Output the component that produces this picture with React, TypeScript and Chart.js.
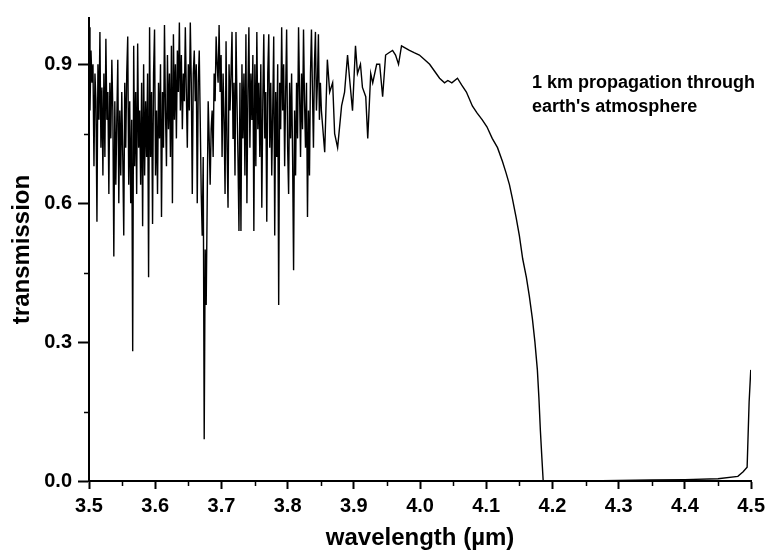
import React, { useEffect, useRef } from "react";
import { Chart, registerables } from "chart.js";

Chart.register(...registerables);

// Dense absorption-line region (3.50 – 3.85 µm)
const denseLambda = [
  3.5000, 3.5015, 3.5030, 3.5045, 3.5060, 3.5075, 3.5090, 3.5105, 3.5120, 3.5135,
  3.5150, 3.5165, 3.5180, 3.5195, 3.5210, 3.5225, 3.5240, 3.5255, 3.5270, 3.5285,
  3.5300, 3.5315, 3.5330, 3.5345, 3.5360, 3.5375, 3.5390, 3.5405, 3.5420, 3.5435,
  3.5450, 3.5465, 3.5480, 3.5495, 3.5510, 3.5525, 3.5540, 3.5555, 3.5570, 3.5585,
  3.5600, 3.5615, 3.5630, 3.5645, 3.5660, 3.5675, 3.5690, 3.5705, 3.5720, 3.5735,
  3.5750, 3.5765, 3.5780, 3.5795, 3.5810, 3.5825, 3.5840, 3.5855, 3.5870, 3.5885,
  3.5900, 3.5915, 3.5930, 3.5945, 3.5960, 3.5975, 3.5990, 3.6005, 3.6020, 3.6035,
  3.6050, 3.6065, 3.6080, 3.6095, 3.6110, 3.6125, 3.6140, 3.6155, 3.6170, 3.6185,
  3.6200, 3.6215, 3.6230, 3.6245, 3.6260, 3.6275, 3.6290, 3.6305, 3.6320, 3.6335,
  3.6350, 3.6365, 3.6380, 3.6395, 3.6410, 3.6425, 3.6440, 3.6455, 3.6470, 3.6485,
  3.6500, 3.6515, 3.6530, 3.6545, 3.6560, 3.6575, 3.6590, 3.6605, 3.6620, 3.6635,
  3.6650, 3.6665, 3.6680, 3.6695, 3.6710, 3.6725, 3.6740, 3.6755, 3.6770, 3.6785,
  3.6800, 3.6815, 3.6830, 3.6845, 3.6860, 3.6875, 3.6890, 3.6905, 3.6920, 3.6935,
  3.6950, 3.6965, 3.6980, 3.6995, 3.7010, 3.7025, 3.7040, 3.7055, 3.7070, 3.7085,
  3.7100, 3.7115, 3.7130, 3.7145, 3.7160, 3.7175, 3.7190, 3.7205, 3.7220, 3.7235,
  3.7250, 3.7265, 3.7280, 3.7295, 3.7310, 3.7325, 3.7340, 3.7355, 3.7370, 3.7385,
  3.7400, 3.7415, 3.7430, 3.7445, 3.7460, 3.7475, 3.7490, 3.7505, 3.7520, 3.7535,
  3.7550, 3.7565, 3.7580, 3.7595, 3.7610, 3.7625, 3.7640, 3.7655, 3.7670, 3.7685,
  3.7700, 3.7715, 3.7730, 3.7745, 3.7760, 3.7775, 3.7790, 3.7805, 3.7820, 3.7835,
  3.7850, 3.7865, 3.7880, 3.7895, 3.7910, 3.7925, 3.7940, 3.7955, 3.7970, 3.7985,
  3.8000, 3.8015, 3.8030, 3.8045, 3.8060, 3.8075, 3.8090, 3.8105, 3.8120, 3.8135,
  3.8150, 3.8165, 3.8180, 3.8195, 3.8210, 3.8225, 3.8240, 3.8255, 3.8270, 3.8285,
  3.8300, 3.8315, 3.8330, 3.8345, 3.8360, 3.8375, 3.8390, 3.8405, 3.8420, 3.8435,
  3.8450, 3.8465, 3.8480, 3.8495, 3.8510,
];
const denseTrans = [
  0.98, 0.80, 0.93, 0.86, 0.90, 0.68, 0.88, 0.82, 0.56, 0.90,
  0.78, 0.97, 0.72, 0.85, 0.66, 0.88, 0.70, 0.955, 0.78, 0.84,
  0.62, 0.86, 0.74, 0.91, 0.80, 0.485, 0.82, 0.64, 0.78, 0.91,
  0.60, 0.80, 0.66, 0.84, 0.70, 0.53, 0.86, 0.72, 0.88, 0.96,
  0.64, 0.82, 0.60, 0.78, 0.28, 0.94, 0.68, 0.84, 0.62, 0.945,
  0.72, 0.80, 0.64, 0.86, 0.55, 0.90, 0.66, 0.82, 0.70, 0.88,
  0.44, 0.98, 0.70, 0.84, 0.555, 0.88, 0.975, 0.66, 0.80, 0.62,
  0.86, 0.74, 0.90, 0.57, 0.84, 0.72, 0.985, 0.80, 0.68, 0.92,
  0.76, 0.88, 0.70, 0.94, 0.60, 0.965, 0.78, 0.90, 0.74, 0.93,
  0.84, 0.99, 0.80, 0.92, 0.76, 0.88, 0.82, 0.98, 0.84, 0.72,
  0.90, 0.80, 0.99, 0.86, 0.62, 0.88, 0.93, 0.82, 0.90, 0.60,
  0.86, 0.93, 0.78, 0.62, 0.53, 0.70, 0.09, 0.50, 0.38, 0.60,
  0.82, 0.74, 0.64, 0.76, 0.80, 0.70, 0.88, 0.82, 0.96, 0.90,
  0.86, 0.985, 0.84, 0.92, 0.70, 0.88, 0.78, 0.62, 0.95, 0.72,
  0.59, 0.90, 0.80, 0.88, 0.97, 0.74, 0.86, 0.66, 0.97, 0.82,
  0.70, 0.54, 0.86, 0.54, 0.90, 0.74, 0.88, 0.66, 0.965, 0.60,
  0.84, 0.98, 0.72, 0.88, 0.78, 0.92, 0.54, 0.90, 0.68, 0.97,
  0.76, 0.86, 0.70, 0.90, 0.59, 0.82, 0.965, 0.74, 0.84, 0.56,
  0.88, 0.965, 0.72, 0.86, 0.66, 0.80, 0.96, 0.53, 0.84, 0.70,
  0.90, 0.38, 0.86, 0.76, 0.98, 0.80, 0.90, 0.68, 0.84, 0.975,
  0.72, 0.62, 0.86, 0.74, 0.88, 0.70, 0.455, 0.80, 0.66, 0.86,
  0.74, 0.98, 0.84, 0.70, 0.88, 0.76, 0.975, 0.82, 0.72, 0.86,
  0.57, 0.80, 0.66, 0.88, 0.975, 0.84, 0.72, 0.90, 0.97, 0.80,
  0.86, 0.965, 0.78, 0.86, 0.80,
];

// Window region and band edge (3.85 – 4.19 µm)
const bandLambda = [
  3.856, 3.860, 3.8635, 3.868, 3.871, 3.8755, 3.8815, 3.886, 3.8905, 3.8935,
  3.898, 3.9025, 3.9055, 3.910, 3.913, 3.918, 3.921, 3.9255, 3.9285, 3.9345,
  3.939, 3.9435, 3.948, 3.953, 3.9585, 3.963, 3.9675, 3.972, 3.978, 3.984,
  3.991, 3.999, 4.007, 4.0145, 4.022, 4.0295, 4.037, 4.042, 4.048, 4.0565,
  4.063, 4.070, 4.079, 4.086, 4.094, 4.101, 4.109, 4.117, 4.1245, 4.130,
  4.135, 4.1395, 4.145, 4.150, 4.155, 4.1606, 4.165, 4.1697, 4.1735, 4.1772,
  4.1795, 4.1817, 4.184, 4.186,
];
const bandTrans = [
  0.71, 0.91, 0.84, 0.86, 0.75, 0.72, 0.81, 0.84, 0.92, 0.87,
  0.80, 0.94, 0.88, 0.90, 0.85, 0.83, 0.74, 0.88, 0.86, 0.90,
  0.90, 0.83, 0.92, 0.925, 0.93, 0.92, 0.90, 0.94, 0.935, 0.93,
  0.925, 0.92, 0.91, 0.90, 0.885, 0.87, 0.86, 0.865, 0.86, 0.87,
  0.855, 0.84, 0.81, 0.795, 0.78, 0.765, 0.74, 0.72, 0.69, 0.665,
  0.64, 0.61, 0.57, 0.53, 0.48, 0.44, 0.40, 0.35, 0.30, 0.24,
  0.18, 0.11, 0.05, 0.0,
];

// Opaque CO2 band and recovery (4.19 – 4.50 µm)
const tailLambda = [4.25, 4.30, 4.35, 4.40, 4.45, 4.48, 4.488, 4.494, 4.497, 4.4995];
const tailTrans = [0.0, 0.001, 0.002, 0.003, 0.005, 0.01, 0.02, 0.03, 0.17, 0.24];

const xMinorTicks = [3.55, 3.65, 3.75, 3.85, 3.95, 4.05, 4.15, 4.25, 4.35, 4.45];
const yMinorTicks = [0.15, 0.45, 0.75];
const noteLines = ["1 km propagation through", "earth's atmosphere"];

const FONT = "'Liberation Sans', Arial, Helvetica, sans-serif";

export default function App() {
  const canvasRef = useRef<HTMLCanvasElement | null>(null);

  useEffect(() => {
    const canvas = canvasRef.current;
    if (!canvas) return;

    const lam = [...denseLambda, ...bandLambda, ...tailLambda];
    const tr = [...denseTrans, ...bandTrans, ...tailTrans];
    const points = lam.map((x, i) => ({ x, y: tr[i] }));

    const extras = {
      id: "extras",
      afterDraw(chart: any) {
        const ctx = chart.ctx;
        const xs = chart.scales.x;
        const ys = chart.scales.y;
        const area = chart.chartArea;
        ctx.save();
        ctx.strokeStyle = "#000";
        ctx.lineWidth = 1.5;
        ctx.beginPath();
        for (const v of xMinorTicks) {
          const px = Math.round(xs.getPixelForValue(v)) + 0.5;
          ctx.moveTo(px, area.bottom);
          ctx.lineTo(px, area.bottom + 5);
        }
        for (const v of yMinorTicks) {
          const py = Math.round(ys.getPixelForValue(v)) + 0.5;
          ctx.moveTo(area.left, py);
          ctx.lineTo(area.left - 5, py);
        }
        ctx.stroke();
        ctx.fillStyle = "#000";
        ctx.font = `bold 18px ${FONT}`;
        ctx.textAlign = "left";
        ctx.textBaseline = "alphabetic";
        noteLines.forEach((t, i) => ctx.fillText(t, 532, 88 + i * 24));
        ctx.restore();
      },
    };

    const chart = new Chart(canvas, {
      type: "line",
      data: {
        datasets: [
          {
            data: points,
            borderColor: "#000",
            borderWidth: 1.4,
            pointRadius: 0,
            tension: 0,
            fill: false,
          },
        ],
      },
      options: {
        animation: false,
        responsive: false,
        devicePixelRatio: 1,
        layout: { padding: { top: 11, right: 18, bottom: 0, left: 0 } },
        plugins: { legend: { display: false }, tooltip: { enabled: false } },
        scales: {
          x: {
            type: "linear",
            min: 3.5,
            max: 4.5,
            afterFit: (s: any) => {
              s.height = 77;
            },
            ticks: {
              stepSize: 0.1,
              color: "#000",
              padding: 5,
              maxRotation: 0,
              font: { family: FONT, size: 20, weight: "bold" },
              callback: (v: any) => Number(v).toFixed(1),
            },
            grid: {
              drawOnChartArea: false,
              drawTicks: true,
              tickLength: 8,
              tickColor: "#000",
              tickWidth: 2,
            },
            border: { display: true, color: "#000", width: 2 },
            title: {
              display: true,
              text: "wavelength (\u00b5m)",
              color: "#000",
              font: { family: FONT, size: 24, weight: "bold" },
              padding: { top: 0, bottom: 5 },
            },
          },
          y: {
            type: "linear",
            min: 0,
            max: 1.0,
            afterFit: (s: any) => {
              s.width = 89;
            },
            ticks: {
              stepSize: 0.3,
              includeBounds: false,
              color: "#000",
              padding: 6,
              font: { family: FONT, size: 20, weight: "bold" },
              callback: (v: any) => Number(v).toFixed(1),
            },
            grid: {
              drawOnChartArea: false,
              drawTicks: true,
              tickLength: 11,
              tickColor: "#000",
              tickWidth: 2,
            },
            border: { display: true, color: "#000", width: 2 },
            title: {
              display: true,
              text: "transmission",
              color: "#000",
              font: { family: FONT, size: 24, weight: "bold" },
              padding: { top: 8, bottom: 0 },
            },
          },
        },
      },
      plugins: [extras],
    } as any);

    return () => chart.destroy();
  }, []);

  return (
    <div style={{ position: "absolute", left: 0, top: 0, width: 770, height: 558, background: "#fff" }}>
      <canvas ref={canvasRef} width={770} height={558} style={{ display: "block" }} />
    </div>
  );
}
